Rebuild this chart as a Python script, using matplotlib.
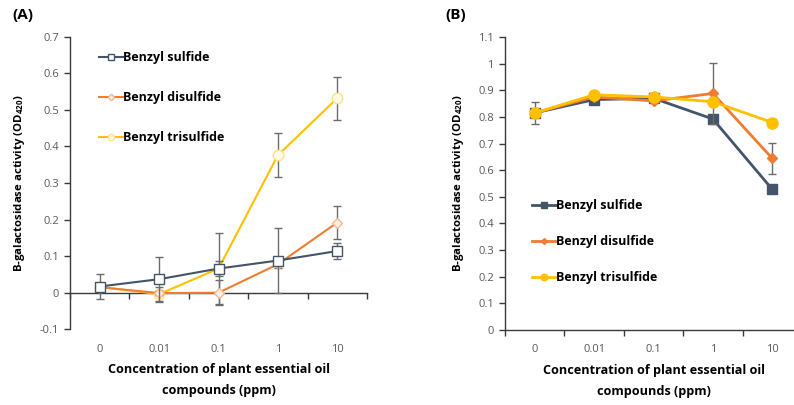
import matplotlib
matplotlib.use("Agg")
import matplotlib.pyplot as plt
from matplotlib.ticker import FixedLocator, FormatStrFormatter, NullFormatter

plt.rcParams['font.family'] = ['Open Sans', 'DejaVu Sans']

# Data
concentrations = ["0", "0.01", "0.1", "1", "10"]
series_names = ["Benzyl sulfide", "Benzyl disulfide", "Benzyl trisulfide"]

# Panel A
a_sulfide = [0.017, 0.037, 0.066, 0.088, 0.114]
a_sulfide_err = [0.033, 0.060, 0.020, 0.088, 0.022]
a_disulfide = [0.015, -0.001, 0.000, 0.078, 0.192]
a_disulfide_err = [0.010, 0.005, 0.034, 0.010, 0.044]
a_trisulfide = [0.016, -0.004, 0.066, 0.376, 0.532]
a_trisulfide_err = [0.010, 0.020, 0.097, 0.060, 0.059]

# Panel B
b_sulfide = [0.815, 0.865, 0.870, 0.792, 0.528]
b_sulfide_err = [0.040, 0.000, 0.000, 0.000, 0.000]
b_disulfide = [0.815, 0.875, 0.860, 0.888, 0.644]
b_disulfide_err = [0.000, 0.000, 0.000, 0.113, 0.058]
b_trisulfide = [0.815, 0.883, 0.875, 0.857, 0.779]
b_trisulfide_err = [0.000, 0.000, 0.015, 0.000, 0.000]

colors = ["#44546A", "#ED7D31", "#FFC000"]
err_color = "#6b6b6b"
axis_color = "#3a3a3a"
tick_label_color = "#595959"

W, H = 794, 405
fig = plt.figure(figsize=(W / 100, H / 100), dpi=100)

XLABEL = "Concentration of plant essential oil\ncompounds (ppm)"
YLABEL = "B-galactosidase activity (OD$_{\\mathregular{420}}$)"


def px_axes(x0, x1, y_top, y_bot):
    return fig.add_axes([x0 / W, 1 - y_bot / H, (x1 - x0) / W, (y_bot - y_top) / H])


def style_axes(ax, ymin, ymax, zero_axis, label_pad):
    x = list(range(len(concentrations)))
    ax.set_xlim(-0.5, len(concentrations) - 0.5)
    ax.set_ylim(ymin, ymax)
    for s in ("top", "right"):
        ax.spines[s].set_visible(False)
    for s in ("left", "bottom"):
        ax.spines[s].set_color(axis_color)
        ax.spines[s].set_linewidth(1.0)
    if zero_axis:
        ax.spines["bottom"].set_position(("data", 0))
    # category boundaries as major ticks, category names as minor tick labels
    ax.xaxis.set_major_locator(FixedLocator([i - 0.5 for i in range(len(concentrations) + 1)]))
    ax.xaxis.set_major_formatter(NullFormatter())
    ax.set_xticks(x, concentrations, minor=True)
    ax.tick_params(axis="x", which="major", direction="out", length=4, width=1, color=axis_color)
    ax.tick_params(axis="x", which="minor", length=0, pad=label_pad,
                   labelsize=8, labelcolor=tick_label_color)
    ax.yaxis.set_major_formatter(FormatStrFormatter("%g"))
    ax.tick_params(axis="y", direction="out", length=4, width=1, color=axis_color,
                   labelsize=8, labelcolor=tick_label_color, pad=4)
    ax.set_ylabel(YLABEL, fontsize=8.2, fontweight="bold", labelpad=9)
    ax.set_xlabel(XLABEL, fontsize=9.1, fontweight="bold", linespacing=1.85)
    ax.xaxis.set_label_coords(0.5, -0.115)


def plot_series(ax, vals, errs, color, marker, ms, mfc, mec, lw, zorder):
    x = list(range(len(vals)))
    ax.errorbar(x, vals, yerr=errs, fmt="none", ecolor=err_color, elinewidth=1.0,
                capsize=3, capthick=1.0, zorder=zorder - 0.5)
    line, = ax.plot(x, vals, color=color, lw=lw, marker=marker, ms=ms,
                    mfc=mfc, mec=mec, mew=1.0, zorder=zorder)
    return line


# ---------- Panel A ----------
axA = px_axes(70, 367, 36.7, 329.3)
style_axes(axA, -0.1, 0.7, zero_axis=True, label_pad=37)
axA.set_yticks([-0.1, 0, 0.1, 0.2, 0.3, 0.4, 0.5, 0.6, 0.7])

hA = [
    plot_series(axA, a_sulfide, a_sulfide_err, colors[0], "s", 7.5, "white", colors[0], 1.5, 5),
    plot_series(axA, a_disulfide, a_disulfide_err, colors[1], "D", 5.5, "#fdf0e8", "#f4b78f", 1.5, 4),
    plot_series(axA, a_trisulfide, a_trisulfide_err, colors[2], "o", 7.5, "#fffbe8", "#ffe08a", 1.5, 3),
]

fig.legend(hA, series_names, loc="upper left", bbox_to_anchor=(99 / W, 1 - 51.5 / H),
           frameon=False, handlelength=1.9, handletextpad=0.05,
           labelspacing=2.15, borderpad=0, borderaxespad=0, markerscale=0.6,
           prop={"weight": "bold", "size": 9.0})

# ---------- Panel B ----------
axB = px_axes(505, 802, 37, 330)
style_axes(axB, 0, 1.1, zero_axis=False, label_pad=10)
axB.set_yticks([0, 0.1, 0.2, 0.3, 0.4, 0.5, 0.6, 0.7, 0.8, 0.9, 1.0, 1.1])

hB = [
    plot_series(axB, b_sulfide, b_sulfide_err, colors[0], "s", 6.5, colors[0], colors[0], 2.0, 3),
    plot_series(axB, b_disulfide, b_disulfide_err, colors[1], "D", 5, colors[1], colors[1], 2.0, 4),
    plot_series(axB, b_trisulfide, b_trisulfide_err, colors[2], "o", 8, colors[2], colors[2], 2.0, 5),
]

fig.legend(hB, series_names, loc="upper left", bbox_to_anchor=(532 / W, 1 - 199 / H),
           frameon=False, handlelength=1.9, handletextpad=0.05,
           labelspacing=1.85, borderpad=0, borderaxespad=0, markerscale=0.6,
           prop={"weight": "bold", "size": 9.0})

# Panel letters
fig.text(12 / W, 1 - 15 / H, "(A)", fontsize=11, fontweight="bold", va="center", ha="left")
fig.text(445 / W, 1 - 15 / H, "(B)", fontsize=11, fontweight="bold", va="center", ha="left")

fig.savefig("out.png", dpi=100)
